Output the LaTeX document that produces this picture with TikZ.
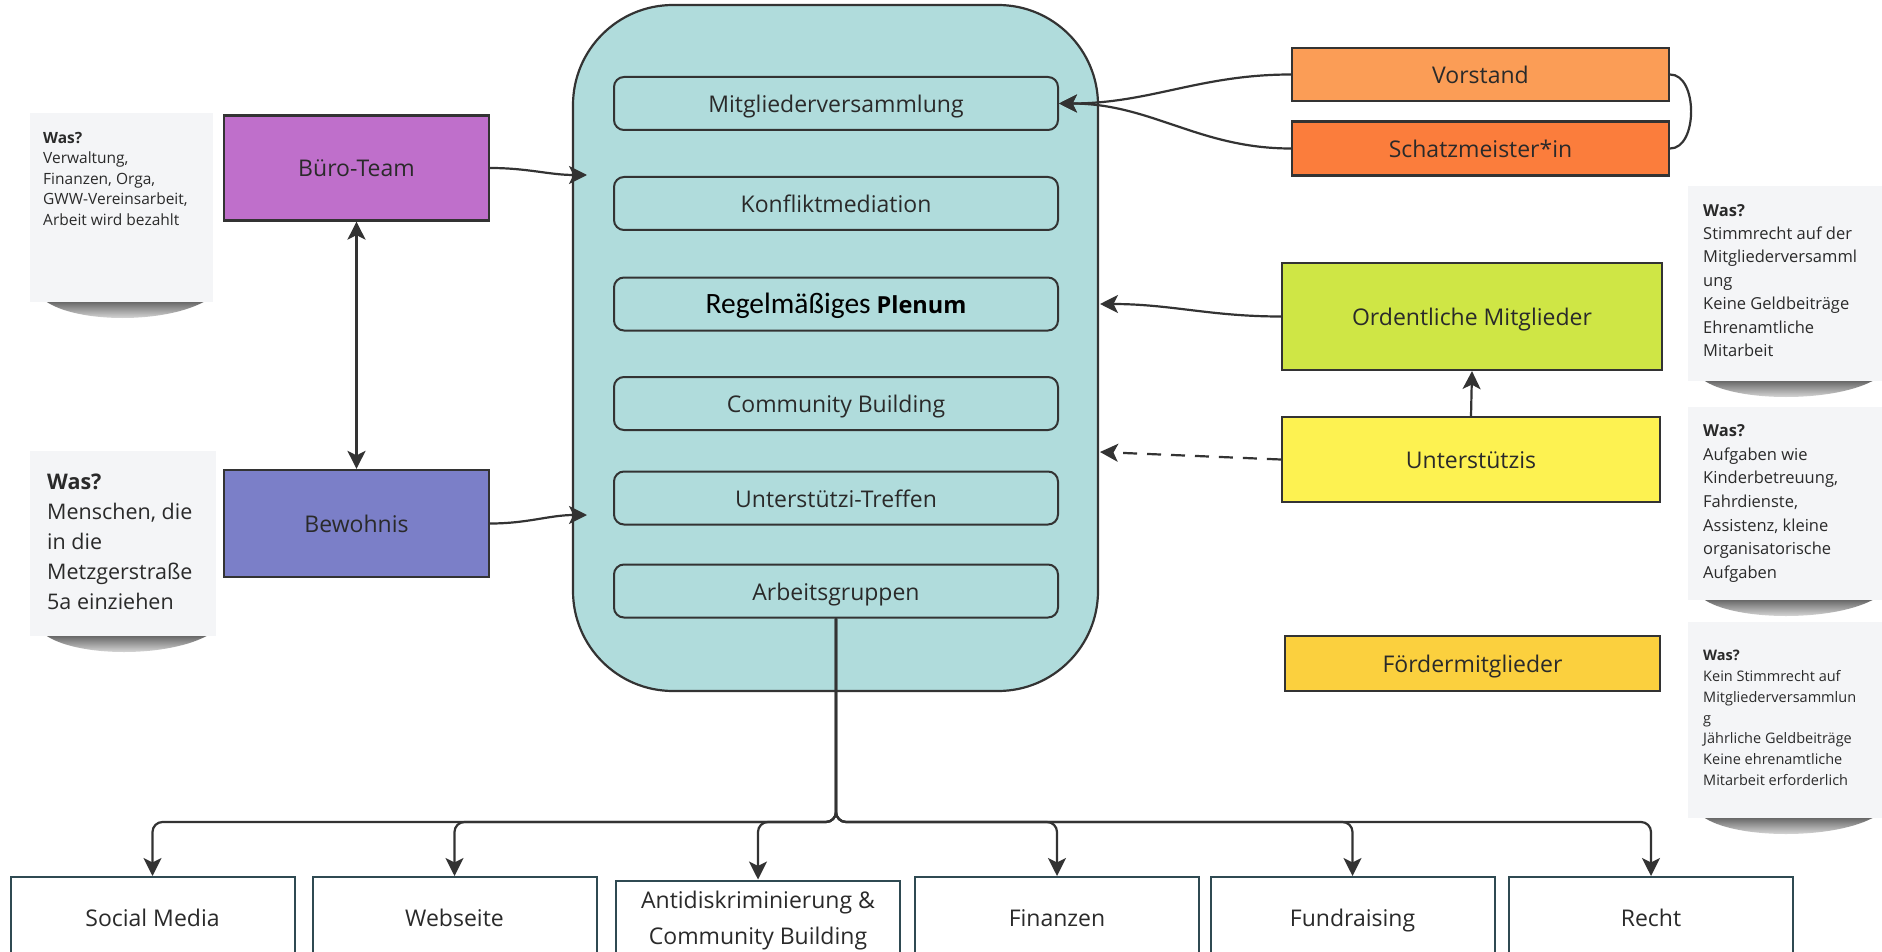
\documentclass[tikz,border=0pt]{standalone}
\usepackage{fontspec}
\setmainfont{Open Sans}
\newfontfamily\calfont{Carlito}
\usetikzlibrary{arrows.meta,calc}
\definecolor{tealbg}{HTML}{B0DCDC}
\definecolor{lineC}{HTML}{333333}
\definecolor{buero}{HTML}{BF6FCB}
\definecolor{bewo}{HTML}{7B7FC8}
\definecolor{vorst}{HTML}{FB9D56}
\definecolor{schatz}{HTML}{FB7D3C}
\definecolor{ordent}{HTML}{CFE645}
\definecolor{unterst}{HTML}{FDF251}
\definecolor{foerder}{HTML}{FBD03E}
\definecolor{notebg}{HTML}{F4F5F7}
\definecolor{txt}{HTML}{2A2A2A}
\definecolor{boxline}{HTML}{2F4A52}
\tikzset{
  bigteal/.style={draw=lineC, line width=2.2pt, rounded corners=100pt, fill=tealbg,
    minimum width=525pt, minimum height=686pt, inner sep=0pt},
  innerbox/.style={draw=lineC, line width=2pt, rounded corners=10pt, fill=tealbg,
    minimum width=444pt, minimum height=53pt, inner sep=0pt, text=txt,
    text height=20pt, text depth=2pt, font=\fontsize{23}{28}\selectfont},
  mainbox/.style={draw=lineC, line width=2.2pt, text=txt, inner sep=0pt,
    text height=20pt, text depth=2pt, font=\fontsize{23}{28}\selectfont},
  wgbase/.style={draw=boxline, line width=2pt, fill=white, minimum width=284pt,
    minimum height=80pt, inner sep=0pt, text=txt, font=\fontsize{23}{36}\selectfont, align=center},
  wgbox/.style={wgbase, text height=20pt, text depth=2pt},
  notetext/.style={anchor=north west, inner sep=0pt, align=left, text=txt},
  tip/.tip={Stealth[length=18pt,width=18pt,inset=4.5pt]},
  arr/.style={draw=lineC, line width=2.2pt, -tip},
  plainline/.style={draw=lineC, line width=2.2pt},
}
\newcommand{\notebox}[4]{% left, top, right, bottom
  \shade[top color=black!80, bottom color=white, opacity=0.8]
    ({#1+14},{#4-2}) .. controls ({#1+45},{#4+22}) and ({#3-45},{#4+22}) .. ({#3-6},{#4-2}) -- cycle;
  \fill[notebg] (#1,#2) rectangle (#3,#4);
}
\begin{document}
\begin{tikzpicture}[x=1pt,y=-1pt]
\useasboundingbox (0,0) rectangle (1882,952);
\clip (0,0) rectangle (1882,952);
\fill[white] (0,0) rectangle (1882,952);

% notes
\notebox{30}{113}{213}{302}
\notebox{30}{451}{216}{636}
\notebox{1688}{186}{1882}{381}
\notebox{1688}{407}{1882}{600}
\notebox{1688}{622}{1882}{818}

\node[notetext, font=\fontsize{15.5}{20.5}\selectfont] (n1) at (43,132)
  {\textbf{Was?}\\Verwaltung,\\Finanzen, Orga,\\GWW-Vereinsarbeit,\\Arbeit wird bezahlt};
\node[notetext, font=\fontsize{21.5}{30}\selectfont] (n2) at (47,474)
  {\textbf{Was?}\\Menschen, die\\in die\\Metzgerstraße\\5a einziehen};
\node[notetext, font=\fontsize{16.5}{23.4}\selectfont] (nA) at (1703,204)
  {\textbf{Was?}\\Stimmrecht auf der\\Mitgliederversamml\\ung\\Keine Geldbeiträge\\Ehrenamtliche\\Mitarbeit};
\node[notetext, font=\fontsize{16.5}{23.6}\selectfont] (nB) at (1703,424.5)
  {\textbf{Was?}\\Aufgaben wie\\Kinderbetreuung,\\Fahrdienste,\\Assistenz, kleine\\organisatorische\\Aufgaben};
\node[notetext, font=\fontsize{14.5}{20.8}\selectfont] (nC) at (1703,650)
  {\textbf{Was?}\\Kein Stimmrecht auf\\Mitgliederversammlun\\g\\Jährliche Geldbeiträge\\Keine ehrenamtliche\\Mitarbeit erforderlich};

% central block
\node[bigteal] (org) at (835.5,348) {};
\node[innerbox] (mv) at (836,103.5) {Mitgliederversammlung};
\node[innerbox] (km) at (836,203.5) {Konfliktmediation};
\node[innerbox] (rp) at (836,304) {\color{black}{\calfont\fontsize{29.5}{30}\selectfont Regelmäßiges} {\fontsize{23.5}{28}\selectfont\bfseries Plenum}};
\node[innerbox] (cb) at (836,403.5) {Community Building};
\node[innerbox] (ut) at (836,498) {Unterstützi-Treffen};
\node[innerbox] (ag) at (836,591) {Arbeitsgruppen};

% left boxes
\node[mainbox, fill=buero, minimum width=265pt, minimum height=105pt] (bt) at (356.5,168) {Büro-Team};
\node[mainbox, fill=bewo, minimum width=265pt, minimum height=107pt] (bw) at (356.5,523.5) {Bewohnis};

% right boxes
\node[mainbox, fill=vorst, minimum width=377pt, minimum height=53pt] (vs) at (1480.5,74.5) {Vorstand};
\node[mainbox, fill=schatz, minimum width=377pt, minimum height=54pt] (sm) at (1480.5,148.5) {Schatzmeister*in};
\node[mainbox, fill=ordent, minimum width=380pt, minimum height=107pt] (om) at (1472,316.5) {Ordentliche Mitglieder};
\node[mainbox, fill=unterst, minimum width=378pt, minimum height=85pt] (us) at (1471,459.5) {Unterstützis};
\node[mainbox, fill=foerder, minimum width=375pt, minimum height=55pt] (fm) at (1472.5,663.5) {Fördermitglieder};

% working groups
\node[wgbox] (w1) at (152.5,917) {Social Media};
\node[wgbox] (w2) at (454.5,917) {Webseite};
\node[wgbase] (w3) at (758,920.5) {Antidiskriminierung \&\\Community Building};
\node[wgbox] (w4) at (1057,917) {Finanzen};
\node[wgbox] (w5) at (1352.5,917) {Fundraising};
\node[wgbox] (w6) at (1651,917) {Recht};

% connector targets
\coordinate (btin) at (587,175);
\coordinate (bwin) at (587,515);
\coordinate (omin) at (1100,304);
\coordinate (usin) at (1100,452);
\coordinate (bus) at (836,822);

\draw[arr] (bt.east) to[out=0,in=180] (btin);
\draw[arr] (bw.east) to[out=0,in=180] (bwin);
\draw[arr, tip-tip] (bt.south) -- (bw.north);
\draw[arr] (vs.west) to[out=180,in=0] (mv.east);
\draw[arr] (sm.west) to[out=180,in=0] (mv.east);
\draw[plainline] (vs.east) .. controls +(28,0) and +(28,0) .. (sm.east);
\draw[arr] (om.west) to[out=180,in=0] (omin);
\draw[arr, dash pattern=on 14pt off 10pt] (us.west) -- (usin);
\draw[arr] (us.north) -- (om.south);
\foreach \w in {w1,w2,w3,w4,w5,w6}
  \draw[arr, rounded corners=10pt] (ag.south) |- (\w.north |- bus) -- (\w.north);
\end{tikzpicture}
\end{document}
